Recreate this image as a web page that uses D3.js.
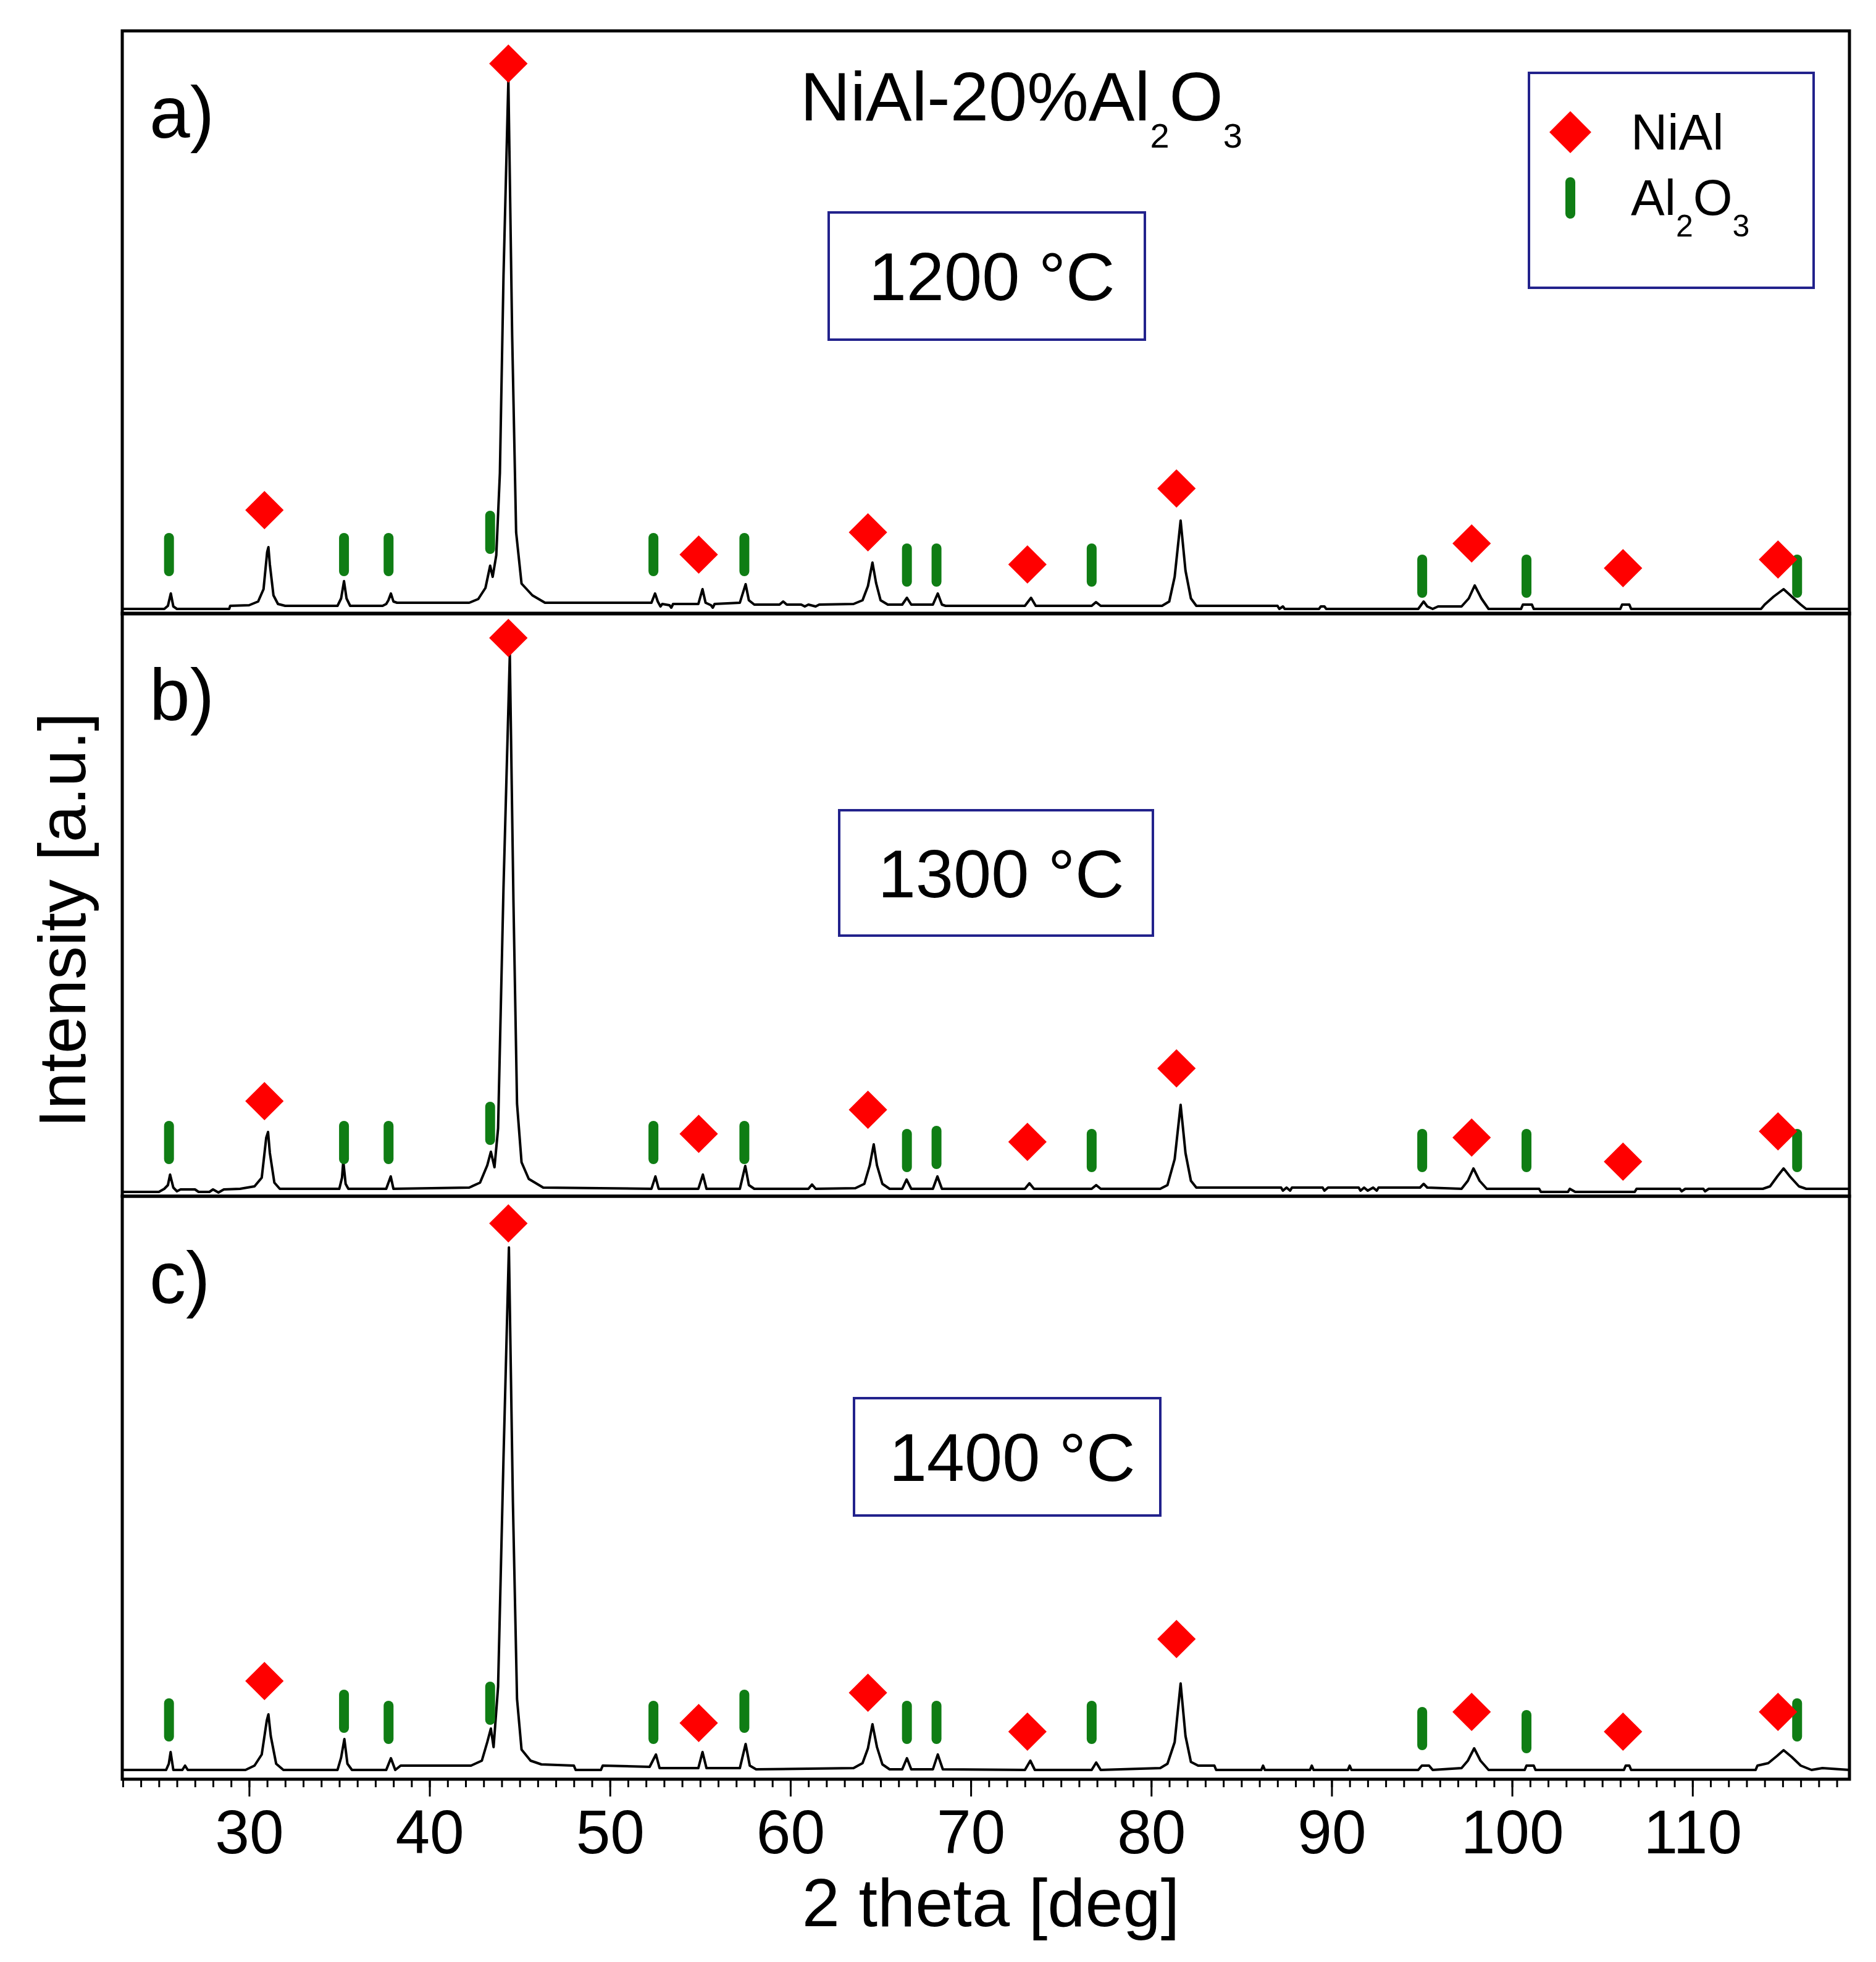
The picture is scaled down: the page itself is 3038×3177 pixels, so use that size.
<!DOCTYPE html>
<html>
<head>
<meta charset="utf-8">
<script src="https://cdn.jsdelivr.net/npm/d3@7"></script>
<style>
  body { margin: 0; background: #fff; }
  text { font-family: "Liberation Sans", Arial, sans-serif; fill: #000; }
</style>
</head>
<body>
<svg id="chart"></svg>
<script>
const width = 3038
const height = 3177

// x axis
const xDomain = [22.97, 118.7]
const xTicks = [30, 40, 50, 60, 70, 80, 90, 100, 110]

// phases: peak positions of the markers (2 theta)
const niAlPos  = [30.85, 44.37, 54.92, 64.3, 73.14, 81.4, 97.76, 106.15, 114.74]
const al2o3Pos = [25.56, 35.26, 37.73, 43.36, 52.41, 57.45, 66.46, 68.1, 76.7, 95.02, 100.8, 115.8]

const panelLabels = ['a)', 'b)', 'c)']
const temps = ['1200 °C', '1300 °C', '1400 °C']

// marker heights (a.u.) per panel
const niAlA  = [168, 891, 96, 132, 80, 203, 114, 74, 88]
const al2o3A = [96, 96, 96, 132, 96, 96, 79, 79, 79, 61, 61, 61]
const niAlB  = [154, 904, 101, 140, 88, 207, 95, 56, 105]
const al2o3B = [87, 87, 87, 118, 87, 87, 74, 79, 74, 74, 74, 74]
const niAlC  = [159, 900, 91, 140, 77, 227, 109, 77, 109]
const al2o3C = [96, 110, 92, 123, 92, 110, 92, 92, 92, 82, 77, 96]

// measured patterns [2theta, intensity a.u.]
const patternA = [[22.97,8],[25.3,8],[25.5,13],[25.66,33],[25.8,12],[26.0,8],[28.9,8],[28.95,13],[30.0,14],[30.5,20],[30.8,40],[31.0,100],[31.07,108],[31.15,80],[31.35,30],[31.6,16],[32.0,13],[34.9,13],[35.1,25],[35.26,53],[35.4,25],[35.6,13],[37.4,13],[37.6,16],[37.72,22],[37.86,33],[38.0,20],[38.2,18],[42.2,18],[42.7,24],[43.1,42],[43.36,78],[43.5,60],[43.7,95],[43.9,228],[44.1,547],[44.37,865],[44.58,451],[44.8,132],[45.1,49],[45.7,30],[46.4,18],[52.3,18],[52.5,33],[52.65,20],[52.8,12],[52.9,16],[53.3,14],[53.4,10],[53.5,16],[54.9,16],[55.13,40],[55.3,18],[55.6,14],[55.7,10],[55.8,16],[57.2,18],[57.52,48],[57.7,22],[58.0,15],[59.4,15],[59.6,20],[59.8,15],[60.6,15],[60.8,12],[61.0,15],[61.4,12],[61.6,15],[63.5,16],[64.0,22],[64.3,45],[64.55,83],[64.75,50],[65.0,22],[65.4,15],[66.2,15],[66.46,26],[66.7,15],[67.9,15],[68.17,33],[68.4,15],[68.6,13],[73.0,13],[73.34,26],[73.6,13],[76.7,13],[76.94,19],[77.2,13],[80.6,13],[81.0,20],[81.3,60],[81.63,151],[81.9,70],[82.2,25],[82.5,13],[87.0,13],[87.1,8],[87.3,12],[87.4,8],[89.3,8],[89.4,12],[89.6,12],[89.7,8],[94.8,8],[95.1,20],[95.3,12],[95.6,8],[95.9,12],[97.2,12],[97.6,25],[97.93,46],[98.3,25],[98.7,8],[100.5,8],[100.6,15],[101.1,15],[101.2,8],[106.0,8],[106.1,15],[106.5,15],[106.6,8],[113.8,8],[114.0,15],[114.5,28],[115.05,40],[115.5,28],[116.0,15],[116.3,8],[118.7,8]]

const patternB = [[22.97,7],[25.0,7],[25.3,12],[25.5,18],[25.62,35],[25.8,14],[26.0,8],[26.2,11],[27.0,11],[27.2,7],[27.8,7],[28.0,11],[28.3,6],[28.6,11],[29.5,12],[30.3,16],[30.7,30],[30.95,95],[31.05,104],[31.15,70],[31.4,22],[31.7,12],[35.0,12],[35.15,30],[35.22,57],[35.35,20],[35.5,12],[37.6,12],[37.85,32],[38.0,12],[42.2,14],[42.8,22],[43.2,50],[43.4,72],[43.6,47],[43.8,110],[44.1,500],[44.45,877],[44.65,480],[44.85,150],[45.1,55],[45.5,28],[46.3,14],[52.3,12],[52.52,32],[52.7,12],[54.9,12],[55.15,35],[55.35,12],[57.2,12],[57.5,49],[57.7,18],[58.0,12],[61.0,12],[61.2,19],[61.4,12],[63.6,13],[64.1,20],[64.4,50],[64.62,84],[64.8,50],[65.1,20],[65.5,12],[66.2,12],[66.44,27],[66.7,12],[67.9,12],[68.15,32],[68.4,12],[73.0,12],[73.25,21],[73.5,12],[76.7,12],[76.95,18],[77.2,12],[80.5,12],[80.9,18],[81.3,60],[81.63,148],[81.9,70],[82.2,25],[82.5,14],[87.2,14],[87.3,9],[87.5,14],[87.7,9],[87.8,14],[89.5,14],[89.6,9],[89.8,14],[91.5,14],[91.6,9],[91.8,14],[92.0,9],[92.3,14],[92.5,9],[92.6,14],[94.9,14],[95.1,20],[95.3,14],[97.2,12],[97.55,25],[97.86,45],[98.2,25],[98.6,12],[101.5,12],[101.6,7],[103.1,7],[103.2,12],[103.5,7],[106.8,7],[106.9,12],[109.3,12],[109.4,8],[109.6,12],[110.6,12],[110.7,8],[110.9,12],[113.9,12],[114.3,16],[114.7,32],[115.05,45],[115.4,32],[115.9,16],[116.3,12],[118.7,12]]

const patternC = [[22.97,15],[25.4,15],[25.55,25],[25.65,44],[25.8,15],[26.3,15],[26.45,22],[26.6,15],[29.8,15],[30.3,22],[30.7,40],[30.98,95],[31.07,105],[31.2,70],[31.5,25],[31.9,15],[34.9,15],[35.1,35],[35.28,65],[35.45,25],[35.7,15],[37.6,15],[37.86,34],[38.1,15],[38.4,22],[42.3,22],[42.9,30],[43.2,60],[43.4,82],[43.55,52],[43.8,150],[44.1,520],[44.4,861],[44.62,450],[44.85,130],[45.1,48],[45.6,30],[46.2,24],[48.0,22],[48.1,15],[49.5,15],[49.6,22],[52.2,20],[52.55,40],[52.75,18],[54.9,18],[55.13,44],[55.35,18],[57.2,18],[57.52,57],[57.75,22],[58.1,16],[63.5,18],[64.0,26],[64.3,50],[64.55,89],[64.8,52],[65.1,24],[65.5,16],[66.2,16],[66.46,34],[66.7,16],[67.9,16],[68.17,40],[68.45,16],[73.0,15],[73.3,30],[73.55,15],[76.7,15],[76.95,27],[77.2,15],[80.5,18],[80.9,25],[81.3,60],[81.63,155],[81.9,70],[82.2,28],[82.6,22],[83.5,22],[83.6,15],[86.1,15],[86.2,22],[86.3,15],[88.8,15],[88.9,22],[89.0,15],[90.9,15],[91.0,22],[91.1,15],[94.8,15],[95.0,22],[95.4,22],[95.6,15],[97.2,18],[97.55,30],[97.9,50],[98.25,30],[98.7,15],[100.7,15],[100.8,22],[101.2,22],[101.3,15],[106.2,15],[106.3,22],[106.5,22],[106.6,15],[113.5,15],[113.6,22],[114.2,26],[114.7,38],[115.05,47],[115.5,36],[116.0,22],[116.6,15],[117.2,18],[118.7,15]]

const patterns = [patternA, patternB, patternC]
const niAlH = [niAlA, niAlB, niAlC]
const al2o3H = [al2o3A, al2o3B, al2o3C]

// layout
const plotLeft = 198
const plotRight = 2995
const panelTop = [50, 993, 1937]
const panelH = 944
const tempBox = [[1342, 344, 512, 206], [1359, 1312, 508, 203], [1383, 2264, 496, 190]]

const red = '#ff0000'
const green = '#0f7d14'
const navy = '#22228c'

const svg = d3.select('#chart').attr('width', width).attr('height', height)

const Xscale = d3.scaleLinear().domain(xDomain).range([plotLeft, plotRight])

const diamond = d3.symbol().type(d3.symbolSquare).size(44 * 44)

function drawPanel(i) {
    const top = panelTop[i]
    const Yscale = d3.scaleLinear().domain([0, panelH]).range([top + panelH, top])
    const g = svg.append('g').attr('class', 'panel')

    const linePath = d3.line()
        .x(d => Xscale(d[0]))
        .y(d => Yscale(d[1]))

    g.append('path')
        .attr('d', linePath(patterns[i]))
        .attr('fill', 'none')
        .attr('stroke', '#000')
        .attr('stroke-width', 4)
        .attr('stroke-linejoin', 'round')

    // Al2O3 bars
    g.selectAll('rect.al').data(al2o3Pos).enter().append('rect')
        .attr('class', 'al')
        .attr('x', d => Xscale(d) - 8)
        .attr('y', (d, j) => Yscale(al2o3H[i][j]) - 35)
        .attr('width', 16)
        .attr('height', 70)
        .attr('rx', 8)
        .attr('fill', green)

    // NiAl diamonds
    g.selectAll('path.ni').data(niAlPos).enter().append('path')
        .attr('class', 'ni')
        .attr('d', diamond)
        .attr('transform', (d, j) => `translate(${Xscale(d)},${Yscale(niAlH[i][j])}) rotate(45)`)
        .attr('fill', red)

    // frame
    g.append('rect')
        .attr('x', plotLeft).attr('y', top)
        .attr('width', plotRight - plotLeft).attr('height', panelH)
        .attr('fill', 'none').attr('stroke', '#000').attr('stroke-width', 5)

    g.append('text').text(panelLabels[i])
        .attr('x', 242).attr('y', top + 173)
        .attr('font-size', 118)

    const b = tempBox[i]
    g.append('rect')
        .attr('x', b[0]).attr('y', b[1]).attr('width', b[2]).attr('height', b[3])
        .attr('fill', '#fff').attr('stroke', navy).attr('stroke-width', 4)
    g.append('text').text(temps[i])
        .attr('x', b[0] + b[2] / 2 + 8).attr('y', b[1] + b[3] / 2 + 39)
        .attr('text-anchor', 'middle')
        .attr('font-size', 110)
}

panelTop.forEach((t, i) => drawPanel(i))

// x axis on the bottom panel
const axisY = panelTop[2] + panelH
const minorAxis = d3.axisBottom(Xscale)
    .tickValues(d3.range(23, 119))
    .tickSize(13)
    .tickFormat('')
const majorAxis = d3.axisBottom(Xscale)
    .tickValues(xTicks)
    .tickSize(28)
    .tickPadding(21)

svg.append('g').attr('transform', `translate(0,${axisY})`).call(minorAxis)
svg.append('g').attr('transform', `translate(0,${axisY})`).call(majorAxis)
svg.selectAll('.domain').remove()
svg.selectAll('.tick line').attr('stroke', '#000').attr('stroke-width', 3)
svg.selectAll('.tick text')
    .attr('font-size', 100)
    .attr('font-family', '"Liberation Sans", Arial, sans-serif')

svg.append('text').text('2 theta [deg]')
    .attr('x', (plotLeft + plotRight) / 2 + 8).attr('y', 3119)
    .attr('text-anchor', 'middle')
    .attr('font-size', 110)

svg.append('text').text('Intensity [a.u.]')
    .attr('transform', `translate(138,1490) rotate(-90)`)
    .attr('text-anchor', 'middle')
    .attr('font-size', 108)

// title
const title = svg.append('text').attr('x', 1296).attr('y', 195).attr('font-size', 112)
title.append('tspan').text('NiAl-20%Al')
title.append('tspan').text('2').attr('font-size', 56).attr('dy', 44)
title.append('tspan').text('O').attr('dy', -44)
title.append('tspan').text('3').attr('font-size', 56).attr('dy', 44)

// legend
const lg = svg.append('g')
lg.append('rect')
    .attr('x', 2476).attr('y', 118).attr('width', 461).attr('height', 348)
    .attr('fill', '#fff').attr('stroke', navy).attr('stroke-width', 4)
lg.append('path').attr('d', d3.symbol().type(d3.symbolSquare).size(48 * 48))
    .attr('transform', 'translate(2543,214) rotate(45)')
    .attr('fill', red)
lg.append('rect')
    .attr('x', 2535).attr('y', 287).attr('width', 16).attr('height', 67).attr('rx', 8)
    .attr('fill', green)
lg.append('text').text('NiAl').attr('x', 2641).attr('y', 242).attr('font-size', 82)
const lt = lg.append('text').attr('x', 2641).attr('y', 348).attr('font-size', 82)
lt.append('tspan').text('Al')
lt.append('tspan').text('2').attr('font-size', 50).attr('dy', 35)
lt.append('tspan').text('O').attr('dy', -35)
lt.append('tspan').text('3').attr('font-size', 50).attr('dy', 35)
</script>
</body>
</html>
